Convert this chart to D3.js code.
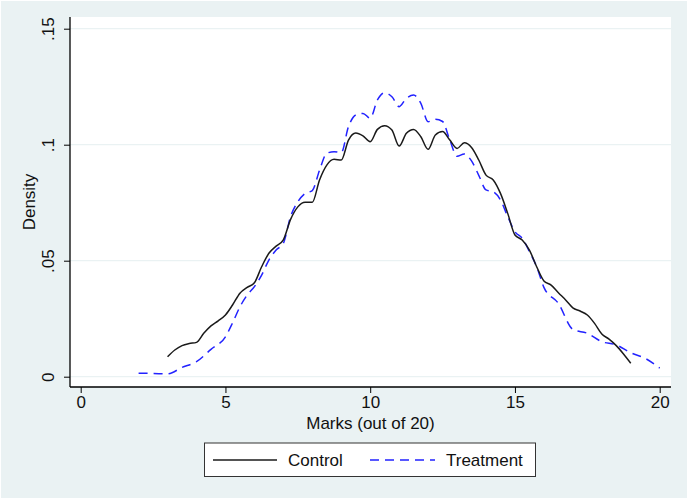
<!DOCTYPE html>
<html>
<head>
<meta charset="utf-8">
<script src="https://cdn.jsdelivr.net/npm/d3@7"></script>
<style>
body{margin:0;background:#eaf2f3}
svg{display:block;font-family:"Liberation Sans",Arial,sans-serif}
</style>
</head>
<body>
<svg width="688" height="499"></svg>
<script>
// kernel density of marks
const controlX=[3,3.25,3.5,3.75,4,4.25,4.5,4.75,5,5.25,5.5,5.75,6,6.25,6.5,6.75,7,7.25,7.5,7.75,8,8.25,8.5,8.75,9,9.25,9.5,9.75,10,10.25,10.5,10.75,11,11.25,11.5,11.75,12,12.25,12.5,12.75,13,13.25,13.5,13.75,14,14.25,14.5,14.75,15,15.25,15.5,15.75,16,16.25,16.5,16.75,17,17.25,17.5,17.75,18,18.25,18.5,18.75,19]
const controlY=[.0086,.0115,.0134,.0143,.0148,.0187,.0219,.0241,.0266,.031,.036,.0385,.0405,.0474,.0532,.0563,.059,.0678,.0732,.0752,.0752,.0848,.0912,.0937,.0934,.102,.105,.1038,.1013,.1066,.1082,.1063,.0994,.1049,.1066,.1034,.098,.1042,.1057,.102,.0984,.1008,.0988,.0934,.0869,.0848,.079,.0704,.0611,.0589,.0546,.0474,.0413,.0395,.0362,.0331,.0297,.0283,.0266,.023,.0184,.0162,.0134,.0098,.0058]
const treatX=[2,2.5,3,3.5,4,4.5,5,5.25,5.5,5.75,6,6.25,6.5,6.75,7,7.25,7.5,7.75,8,8.25,8.5,8.75,9,9.25,9.5,9.75,10,10.25,10.5,10.75,11,11.25,11.5,11.75,12,12.25,12.5,12.75,13,13.25,13.5,13.75,14,14.25,14.5,14.75,15,15.25,15.5,15.75,16,16.5,17,17.5,18,18.5,19,19.5,20]
const treatY=[.0015,.0014,.0012,.004,.0065,.0118,.0172,.0233,.0301,.0352,.0388,.0438,.0503,.0546,.0575,.069,.0754,.079,.0802,.089,.0963,.097,.0966,.1078,.1128,.1135,.1114,.1193,.1224,.1207,.1164,.12,.1214,.1178,.1099,.111,.11,.102,.095,.096,.093,.0868,.0805,.0797,.0762,.069,.0625,.0597,.0539,.0474,.0385,.0316,.0204,.0187,.0151,.0137,.0103,.0079,.0037]
const xTicks=[0,5,10,15,20]
const yTicks=[0,.05,.1,.15]
const yTickLabels=["0",".05",".1",".15"]
const seriesNames=["Control","Treatment"]

const svg=d3.select("svg")
const fs=17
// plot region
const px0=70,px1=671,py0=17,py1=387
const x=d3.scaleLinear().domain([0,20]).range([80.7,659.7])
const y=d3.scaleLinear().domain([0,.15]).range([376.7,28.7])

svg.append("rect").attr("x",0.5).attr("y",0.5).attr("width",687).attr("height",498)
  .attr("fill","#eaf2f3").attr("stroke","#fff")
svg.append("rect").attr("x",px0).attr("y",py0).attr("width",px1-px0).attr("height",py1-py0).attr("fill","#fff")

// grid
svg.append("g").selectAll("line").data(yTicks).join("line")
  .attr("x1",px0).attr("x2",px1).attr("y1",d=>y(d)).attr("y2",d=>y(d))
  .attr("stroke","#eaf2f3").attr("stroke-width",1.2)

// axes
const xa=svg.append("g").attr("transform",`translate(0,${py1})`)
  .call(d3.axisBottom(x).tickValues(xTicks).tickSize(6).tickPadding(3).tickFormat(d3.format("d")))
xa.select(".domain").attr("d",`M${px0},0H${px1}`)
const ya=svg.append("g").attr("transform",`translate(${px0},0)`)
  .call(d3.axisLeft(y).tickValues(yTicks).tickSize(6).tickFormat((d,i)=>yTickLabels[i]))
ya.select(".domain").attr("d",`M0,${py0}V${py1}`)
svg.selectAll("g").attr("font-family",null)
svg.selectAll(".domain").attr("stroke","#000").attr("stroke-width",1.3)
svg.selectAll(".tick line").attr("stroke","#000").attr("stroke-width",1)
svg.selectAll(".tick text").attr("font-size",fs).attr("fill","#111")
ya.selectAll(".tick text").attr("transform","rotate(-90)")
  .attr("x",0).attr("y",-16.5).attr("dy",0).attr("text-anchor","middle")

svg.append("text").attr("x",(px0+px1)/2).attr("y",429).attr("text-anchor","middle")
  .attr("font-size",fs).attr("fill","#111").text("Marks (out of 20)")
svg.append("text").attr("transform",`translate(35,${(py0+py1)/2}) rotate(-90)`).attr("text-anchor","middle")
  .attr("font-size",fs).attr("fill","#111").text("Density")

// curves
const line=d3.line().x(d=>x(d[0])).y(d=>y(d[1])).curve(d3.curveMonotoneX)
const control=d3.zip(controlX,controlY)
const treat=d3.zip(treatX,treatY)
svg.append("path").datum(treat).attr("d",line).attr("fill","none")
  .attr("stroke","#2222ff").attr("stroke-width",1.5).attr("stroke-dasharray","9,6")
svg.append("path").datum(control).attr("d",line).attr("fill","none")
  .attr("stroke","#1a1a1a").attr("stroke-width",1.5)

// legend
const lg=svg.append("g")
lg.append("rect").attr("x",204.5).attr("y",443).attr("width",331).attr("height",33.5)
  .attr("fill","#fff").attr("stroke","#333").attr("stroke-width",1)
lg.append("line").attr("x1",213).attr("x2",277).attr("y1",460).attr("y2",460)
  .attr("stroke","#1a1a1a").attr("stroke-width",1.5)
lg.append("line").attr("x1",370).attr("x2",435).attr("y1",460).attr("y2",460)
  .attr("stroke","#2222ff").attr("stroke-width",1.5).attr("stroke-dasharray","9,6")
lg.selectAll("text.lab").data(seriesNames).join("text").attr("class","lab")
  .attr("x",(d,i)=>i?446:288).attr("y",466).attr("font-size",fs).attr("fill","#111").text(d=>d)
</script>
</body>
</html>
